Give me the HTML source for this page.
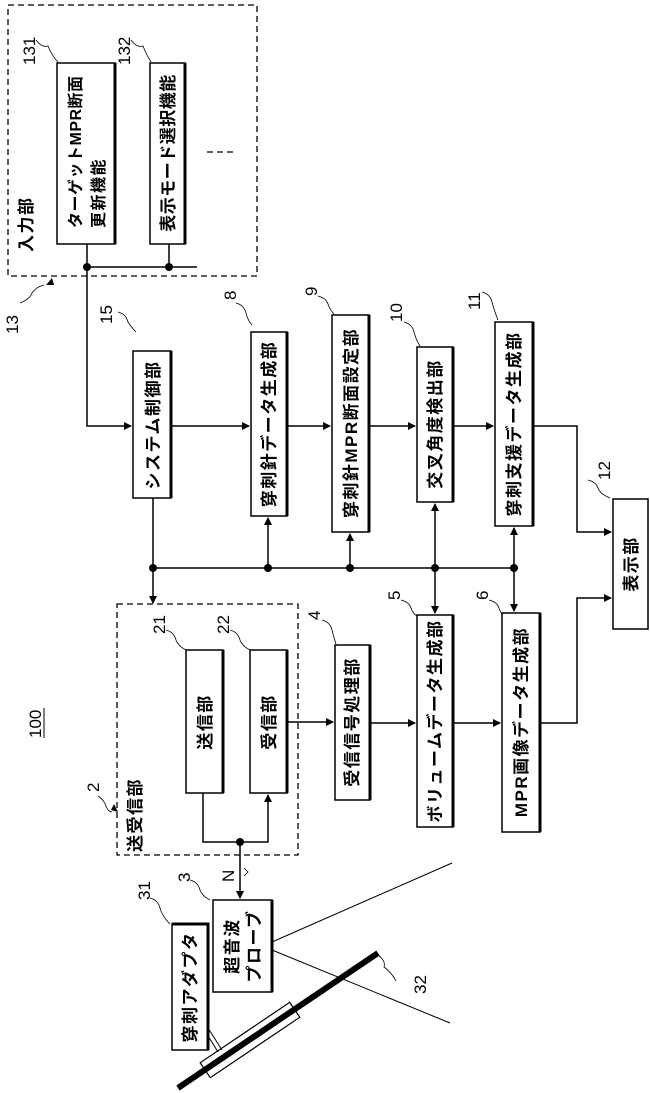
<!DOCTYPE html>
<html><head><meta charset="utf-8"><style>
html,body{margin:0;padding:0;background:#fff;}
svg{display:block;}
text{font-family:"Liberation Sans","Noto Sans CJK JP",sans-serif;fill:#000;}
.b{fill:#fff;stroke:#000;stroke-width:1.5;}
.sh{fill:none;stroke:#000;stroke-width:3;}
.l{fill:none;stroke:#000;stroke-width:1.5;}
.d{fill:none;stroke:#000;stroke-width:1.3;stroke-dasharray:6,4;}
.t{font-size:17px;font-weight:bold;letter-spacing:1.5px;}
.n{font-size:17px;}
.q{fill:none;stroke:#000;stroke-width:0.8;}
</style></head><body>
<svg width="650" height="1093" viewBox="0 0 650 1093" xmlns="http://www.w3.org/2000/svg">
<defs><marker id="a" markerWidth="8" markerHeight="8" refX="7" refY="4" orient="auto" markerUnits="userSpaceOnUse"><path d="M0,0 L8,4 L0,8z" fill="#000"/></marker></defs>

<!-- input unit -->
<rect class="d" x="8" y="5" width="249" height="271"/>
<text class="t" transform="translate(32,252) rotate(-90)">入力部</text>
<rect class="b" x="57" y="63" width="58" height="181"/>
<path class="sh" d="M115,63 V244"/>
<text class="t" style="font-size:16px;letter-spacing:0.5px" transform="translate(81,228) rotate(-90)">ターゲットMPR断面</text>
<text class="t" style="font-size:16px" transform="translate(104,228) rotate(-90)">更新機能</text>
<rect class="b" x="150" y="63" width="35" height="181"/>
<path class="sh" d="M185,63 V244"/>
<text class="t" style="letter-spacing:0.5px" transform="translate(174,153) rotate(-90)" text-anchor="middle">表示モード選択機能</text>
<path class="d" d="M207,152 H236"/>
<path class="l" d="M87,244 V426 H131" marker-end="url(#a)"/>
<path class="l" d="M87,267 H197 M169,244 V267"/>
<circle cx="87" cy="267" r="4"/><circle cx="169" cy="267" r="4"/>
<text class="n" transform="translate(35,65) rotate(-90)">131</text>
<path class="q" d="M36,40 q6,8 12,6 q4,10 10,16"/>
<text class="n" transform="translate(130,65) rotate(-90)">132</text>
<path class="q" d="M131,40 q6,8 12,6 q4,10 8,16"/>
<text class="n" transform="translate(18,334) rotate(-90)">13</text>
<path class="q" d="M20,303 q10,-4 12,-10 q4,-6 12,-8"/>
<path d="M52,278 l-6,7 l8,0z" fill="#000"/>

<!-- system control -->
<rect class="b" x="133" y="351" width="38" height="147"/><path class="sh" d="M171,351 V498"/>
<text class="t" transform="translate(159,425) rotate(-90)" text-anchor="middle">システム制御部</text>
<text class="n" transform="translate(112,324) rotate(-90)">15</text>
<path class="q" d="M118,312 q8,2 10,10 q4,6 8,10"/>
<path class="l" d="M171,426 H249" marker-end="url(#a)"/>

<rect class="b" x="251" y="332" width="36" height="184"/><path class="sh" d="M287,332 V516"/>
<text class="t" transform="translate(275,424) rotate(-90)" text-anchor="middle">穿刺針データ生成部</text>
<text class="n" transform="translate(236,300) rotate(-90)">8</text>
<path class="q" d="M236,303 q8,2 10,10 q2,8 6,12"/>
<path class="l" d="M287,426 H330" marker-end="url(#a)"/>

<rect class="b" x="332" y="315" width="37" height="217"/><path class="sh" d="M369,315 V532"/>
<text class="t" transform="translate(357,423) rotate(-90)" text-anchor="middle">穿刺針MPR断面設定部</text>
<text class="n" transform="translate(317,296) rotate(-90)">9</text>
<path class="q" d="M318,296 q8,2 10,8 q2,6 6,10"/>
<path class="l" d="M369,426 H415" marker-end="url(#a)"/>

<rect class="b" x="417" y="347" width="36" height="155"/><path class="sh" d="M453,347 V502"/>
<text class="t" transform="translate(441,424) rotate(-90)" text-anchor="middle">交叉角度検出部</text>
<text class="n" transform="translate(402,322) rotate(-90)">10</text>
<path class="q" d="M404,322 q8,2 10,10 q2,8 6,14"/>
<path class="l" d="M453,426 H493" marker-end="url(#a)"/>

<rect class="b" x="495" y="322" width="38" height="204"/><path class="sh" d="M533,322 V526"/>
<text class="t" transform="translate(520,424) rotate(-90)" text-anchor="middle">穿刺支援データ生成部</text>
<text class="n" transform="translate(480,310) rotate(-90)">11</text>
<path class="q" d="M482,292 q8,2 10,10 q2,8 6,18"/>
<path class="l" d="M533,426 H577 V532 H611" marker-end="url(#a)"/>

<rect class="b" x="613" y="499" width="35" height="130"/>
<text class="t" transform="translate(637,564) rotate(-90)" text-anchor="middle">表示部</text>
<text class="n" transform="translate(610,480) rotate(-90)">12</text>
<path class="q" d="M588,480 q8,2 10,8 q2,6 12,10"/>

<!-- bus -->
<path class="l" d="M153,498 V603" marker-end="url(#a)"/>
<path class="l" d="M153,568 H514"/>
<path class="l" d="M268,568 V518" marker-end="url(#a)"/>
<path class="l" d="M350,568 V534" marker-end="url(#a)"/>
<path class="l" d="M435,568 V504" marker-end="url(#a)"/>
<path class="l" d="M435,568 V613" marker-end="url(#a)"/>
<path class="l" d="M514,568 V528" marker-end="url(#a)"/>
<path class="l" d="M514,568 V611" marker-end="url(#a)"/>
<circle cx="153" cy="568" r="4"/><circle cx="268" cy="568" r="4"/><circle cx="350" cy="568" r="4"/><circle cx="435" cy="568" r="4"/><circle cx="514" cy="568" r="4"/>

<!-- transceiver -->
<rect class="d" x="117" y="604" width="181" height="251"/>
<text class="t" transform="translate(141,852) rotate(-90)">送受信部</text>
<text class="n" transform="translate(99,792) rotate(-90)">2</text>
<path class="q" d="M98,796 q6,4 8,10 q2,6 6,6"/>
<path d="M118,812 l-7,-2 l3,-6z" fill="#000"/>
<rect class="b" x="186" y="650" width="37" height="143"/><path class="sh" d="M223,650 V793"/>
<text class="t" transform="translate(211,722) rotate(-90)" text-anchor="middle">送信部</text>
<rect class="b" x="250" y="650" width="37" height="143"/><path class="sh" d="M287,650 V793"/>
<text class="t" transform="translate(275,722) rotate(-90)" text-anchor="middle">受信部</text>
<text class="n" transform="translate(165,634) rotate(-90)">21</text>
<path class="q" d="M166,630 q8,2 10,10 q2,6 10,10"/>
<text class="n" transform="translate(229,634) rotate(-90)">22</text>
<path class="q" d="M230,630 q8,2 10,10 q2,6 10,10"/>
<path class="l" d="M287,722 H333" marker-end="url(#a)"/>
<path class="l" d="M203,793 V842 H268 V795" marker-end="url(#a)"/>
<circle cx="240" cy="842" r="4"/>
<path class="l" d="M240,842 V898" marker-end="url(#a)"/>
<text class="n" transform="translate(234,882) rotate(-90)">N</text>
<path class="q" d="M244,868 l4,4 l-4,4"/>

<!-- receive/volume/MPR -->
<rect class="b" x="335" y="645" width="35" height="155"/><path class="sh" d="M370,645 V800"/>
<text class="t" transform="translate(358,722) rotate(-90)" text-anchor="middle">受信信号処理部</text>
<text class="n" transform="translate(320,620) rotate(-90)">4</text>
<path class="q" d="M322,620 q8,2 10,10 q2,8 4,14"/>
<path class="l" d="M370,723 H415" marker-end="url(#a)"/>
<rect class="b" x="417" y="615" width="36" height="212"/><path class="sh" d="M453,615 V827"/>
<text class="t" transform="translate(441,721) rotate(-90)" text-anchor="middle">ボリュームデータ生成部</text>
<text class="n" transform="translate(400,600) rotate(-90)">5</text>
<path class="q" d="M401,600 q8,2 10,8 q2,6 6,8"/>
<path class="l" d="M453,723 H500" marker-end="url(#a)"/>
<rect class="b" x="502" y="613" width="38" height="219"/><path class="sh" d="M540,613 V832"/>
<text class="t" transform="translate(527,722) rotate(-90)" text-anchor="middle">MPR画像データ生成部</text>
<text class="n" transform="translate(488,600) rotate(-90)">6</text>
<path class="q" d="M489,600 q8,2 10,8 q2,6 4,6"/>
<path class="l" d="M540,723 H577 V598 H611" marker-end="url(#a)"/>

<text class="n" transform="translate(41,738) rotate(-90)">100</text>
<path class="l" d="M44,708 V738" style="stroke-width:1"/>

<!-- probe -->
<rect class="b" x="213" y="900" width="59" height="92"/><path class="sh" d="M272,900 V992"/>
<text class="t" transform="translate(238,946) rotate(-90)" text-anchor="middle">超音波</text>
<text class="t" transform="translate(260,946) rotate(-90)" text-anchor="middle">プローブ</text>
<text class="n" transform="translate(190,882) rotate(-90)">3</text>
<path class="q" d="M190,880 q8,2 10,10 q2,6 10,10"/>
<rect class="b" x="172" y="924" width="36" height="126"/><path class="sh" d="M172,924 H208 V1050"/>
<text class="t" transform="translate(196,987) rotate(-90)" text-anchor="middle">穿刺アダプタ</text>
<text class="n" transform="translate(150,900) rotate(-90)">31</text>
<path class="q" d="M150,898 q8,2 10,10 q2,8 10,16"/>
<path class="l" d="M272,942 L452,863 M272,950 L450,1023" style="stroke-width:1"/>
<path d="M208,1028 L222,1050 M208,1036 L218,1052" stroke="#000" stroke-width="1"/>
<path d="M178,1088 L378,953" stroke="#000" stroke-width="6"/>
<g transform="translate(250,1040) rotate(-34)">
<rect x="-54" y="-9" width="108" height="18" fill="none" stroke="#000" stroke-width="1.2"/>
</g>
<path class="q" d="M378,955 q8,6 6,12 q8,6 12,14"/>
<text class="n" transform="translate(426,994) rotate(-90)">32</text>
</svg>
</body></html>
